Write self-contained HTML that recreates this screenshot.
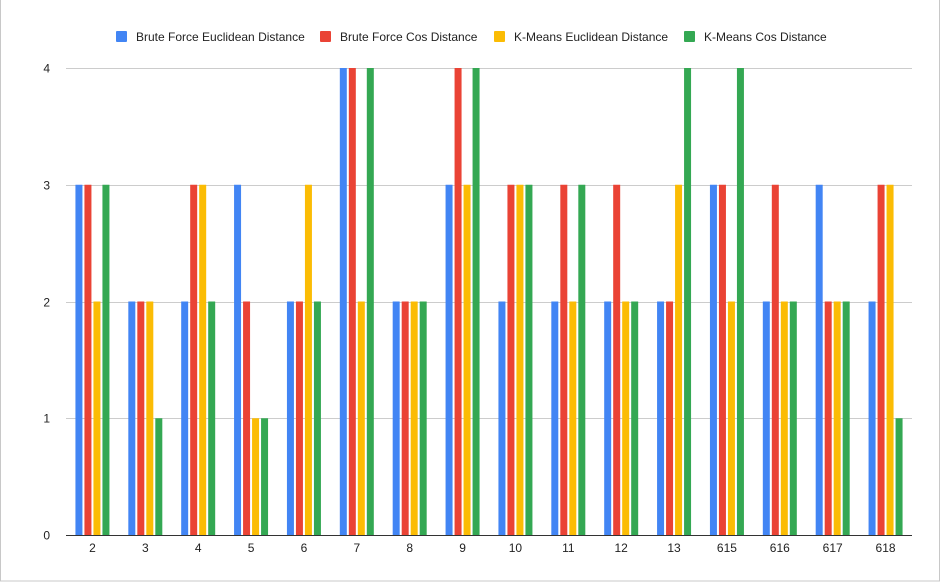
<!DOCTYPE html>
<html><head><meta charset="utf-8"><style>
body{margin:0;background:#fff;font-family:"Liberation Sans",Arial,sans-serif}
#wrap{position:relative;width:940px;height:582px;overflow:hidden}
svg text{font-family:"Liberation Sans",Arial,sans-serif;font-size:12px;fill:#222}
</style></head><body>
<div id="wrap">
<svg id="chart" width="940" height="582">
<rect x="0.5" y="-1" width="939" height="582" fill="#fff" stroke="#c8c8c8"/>
<g id="legend"></g>
<g id="grid"></g>
<g id="bars"></g>
<g id="xlabels"></g>
<g id="ylabels"></g>
</svg>
</div>
<script>
const categories=["2","3","4","5","6","7","8","9","10","11","12","13","615","616","617","618"];
const bfEuclid=[3,2,2,3,2,4,2,3,2,2,2,2,3,2,3,2];
const bfCos=[3,2,3,2,2,4,2,4,3,3,3,2,3,3,2,3];
const kmEuclid=[2,2,3,1,3,2,2,3,3,2,2,3,2,2,2,3];
const kmCos=[3,1,2,1,2,4,2,4,3,3,2,4,4,2,2,1];
const yTicks=[0,1,2,3,4];
const seriesNames=["Brute Force Euclidean Distance","Brute Force Cos Distance","K-Means Euclidean Distance","K-Means Cos Distance"];
const colors=["#4285f4","#ea4335","#fbbc04","#34a853"];
const series=[bfEuclid,bfCos,kmEuclid,kmCos];
const NS="http://www.w3.org/2000/svg";
const x0=66,x1=912,y0=535,yTop=68,yMax=4;
const yScale=v=>y0-(v/yMax)*(y0-yTop);
const groupW=(x1-x0)/categories.length;
const xCenter=i=>x0+groupW*(i+0.5);
function mk(tag,attrs,parent){const e=document.createElementNS(NS,tag);for(const k in attrs)e.setAttribute(k,attrs[k]);parent.appendChild(e);return e;}
const grid=document.getElementById('grid'),bars=document.getElementById('bars'),xl=document.getElementById('xlabels'),yl=document.getElementById('ylabels'),lg=document.getElementById('legend');
yTicks.forEach(t=>{
  const y=Math.round(yScale(t))+0.5;
  const l=mk('line',{x1:x0,x2:x1,y1:y,y2:y,stroke:t===0?'#333':'#ccc','stroke-width':1},grid);
  
  
  const tx=mk('text',{x:50,y:y+4,'text-anchor':'end'},yl);
  tx.textContent=t;
  
  
});
const bw=7,gap=9;
categories.forEach((c,i)=>{
  const cx=xCenter(i);
  series.forEach((s,j)=>{
    const x=cx-17+j*gap;
    const y=yScale(s[i]);
    const r=mk('rect',{x:x,y:y,width:bw,height:y0-y,fill:colors[j]},bars);
    
    
  });
  const t=mk('text',{x:cx,y:552,'text-anchor':'middle'},xl);
  t.textContent=c;
  
  
});
const lx=[116,320,494,684];
seriesNames.forEach((n,j)=>{
  const g=mk('g',{},lg);
  
  
  mk('rect',{x:lx[j],y:31,width:11,height:11,fill:colors[j],rx:1},g);
  const t=mk('text',{x:lx[j]+20,y:41},g);
  t.textContent=n;
});
</script>
</body></html>
